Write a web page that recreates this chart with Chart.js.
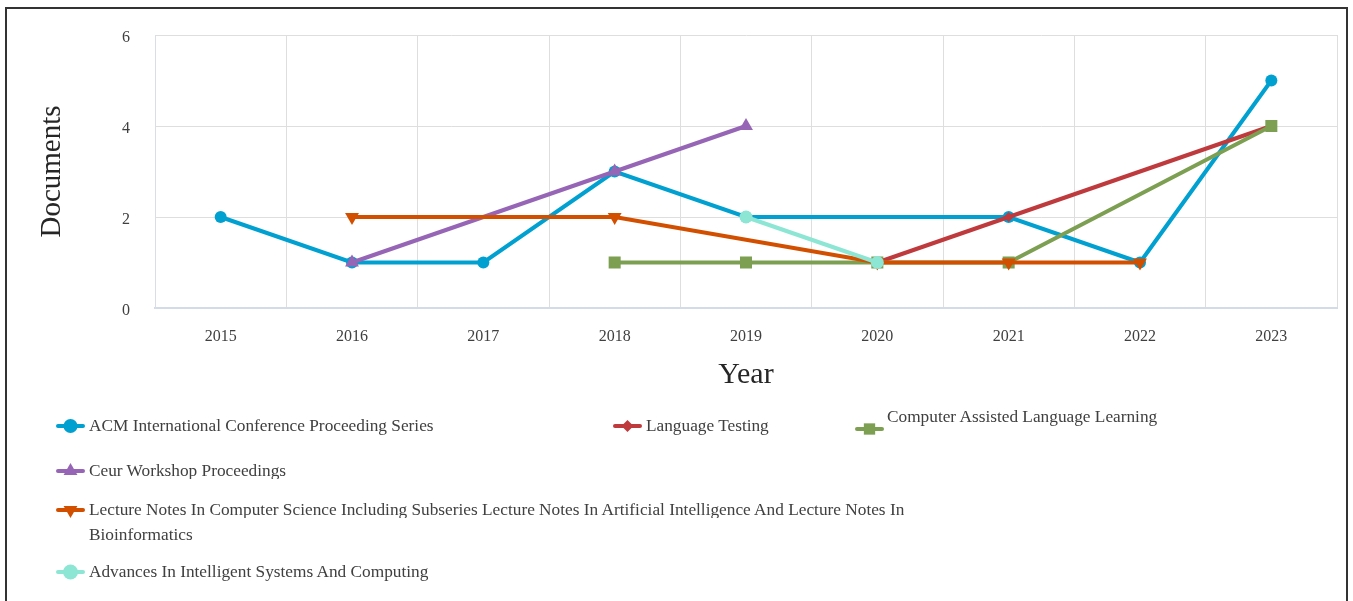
<!DOCTYPE html>
<html>
<head>
<meta charset="utf-8">
<script src="https://cdn.jsdelivr.net/npm/chart.js@4.4.1/dist/chart.umd.min.js"></script>
<style>
  html, body { margin: 0; padding: 0; background: #fff; overflow: hidden; }
  #wrap { position: relative; width: 1353px; height: 601px; }
  #frame { position: absolute; left: 5px; top: 7px; width: 1343px; height: 620px; border: 2px solid #333; box-sizing: border-box; }
  #chart { position: absolute; left: 0; top: 0; }
  .item { position: absolute; font-family: "Liberation Serif", serif; font-size: 17.3px; color: #404040; line-height: 25px; white-space: nowrap; }
  .item canvas { position: absolute; left: 0; top: 0; }
  .item span { position: absolute; }
</style>
</head>
<body>
<div id="wrap">
  <div id="frame"></div>
  <canvas id="chart" width="1353" height="601"></canvas>
  <div id="legend"></div>
</div>
<script>
var years = ['2015', '2016', '2017', '2018', '2019', '2020', '2021', '2022', '2023'];

var acm = [2, 1, 1, 3, 2, null, 2, 1, 5];
var languageTesting = [null, null, null, null, null, 1, 2, null, 4];
var computerAssisted = [null, null, null, 1, 1, 1, 1, null, 4];
var ceur = [null, 1, null, 3, 4, null, null, null, null];
var lectureNotes = [null, 2, null, 2, null, 1, 1, 1, null];
var advances = [null, null, null, null, 2, 1, null, null, null];

var seriesNames = [
    'ACM International Conference Proceeding Series',
    'Language Testing',
    'Computer Assisted Language Learning',
    'Ceur Workshop Proceedings',
    'Lecture Notes In Computer Science Including Subseries Lecture Notes In Artificial Intelligence And Lecture Notes In Bioinformatics',
    'Advances In Intelligent Systems And Computing'
];
var yTicks = [0, 2, 4, 6];

var colors = ['#00a0d1', '#be3a3c', '#7c9f52', '#9665b5', '#d24f00', '#8de6d4'];
var styles = ['circle', 'rectRot', 'rect', 'triangle', 'triangle', 'circle'];
var rotations = [0, 0, 0, 0, 180, 0];
var radii = [6, 5, 8.5, 8, 8, 6.5];
var values = [acm, languageTesting, computerAssisted, ceur, lectureNotes, advances];

var datasets = values.map(function (v, i) {
    return {
        label: seriesNames[i],
        data: v,
        borderColor: colors[i],
        backgroundColor: colors[i],
        borderWidth: 4,
        pointStyle: styles[i],
        pointRotation: rotations[i],
        pointRadius: radii[i],
        pointHoverRadius: radii[i],
        pointBorderWidth: 0,
        spanGaps: true,
        tension: 0,
        order: values.length - i
    };
});

var serif = 'Liberation Serif';

new Chart(document.getElementById('chart'), {
    type: 'line',
    data: { labels: years, datasets: datasets },
    options: {
        responsive: false,
        animation: false,
        layout: { padding: { left: 0, top: 35, right: 16, bottom: 203 } },
        plugins: { legend: { display: false }, tooltip: { enabled: false } },
        scales: {
            x: {
                offset: true,
                grid: { offset: true, color: '#dedede', lineWidth: 1, drawTicks: false },
                border: { color: '#d3dae8', width: 2 },
                ticks: { color: '#404040', padding: 19, font: { family: serif, size: 16 } },
                title: { display: true, text: 'Year', color: '#262626', padding: { top: 0, bottom: 5 }, font: { family: serif, size: 30 } },
                afterFit: function (scale) { scale.height = 90; }
            },
            y: {
                min: 0,
                max: 6,
                afterBuildTicks: function (scale) {
                    scale.ticks = yTicks.map(function (t) { return { value: t }; });
                },
                grid: { color: '#dedede', lineWidth: 1, drawTicks: false },
                border: { color: '#d9dde8', width: 1 },
                ticks: { color: '#404040', padding: 25, labelOffset: 3, font: { family: serif, size: 16 } },
                title: { display: true, text: 'Documents', color: '#262626', padding: { top: 35, bottom: 0 }, font: { family: serif, size: 29 } },
                afterFit: function (scale) { scale.width = 155; }
            }
        }
    }
});

// legend laid out like the original export
var legendPlaces = [
    { x: 56, y: 413, textDy: 0, w: 520 },
    { x: 613, y: 413, textDy: 0, w: 300 },
    { x: 855, y: 416, textDy: -12, w: 420 },
    { x: 56, y: 458, textDy: 0, w: 520, clip: 21 },
    { x: 56, y: 497, textDy: 0, w: 900, clip: 21, second: 'Bioinformatics' },
    { x: 56, y: 559, textDy: 0, w: 520 }
];

var legend = document.getElementById('legend');
legendPlaces.forEach(function (p, i) {
    var item = document.createElement('div');
    item.className = 'item';
    item.style.left = p.x + 'px';
    item.style.top = p.y + 'px';
    item.style.width = p.w + 'px';
    item.style.height = '60px';

    var c = document.createElement('canvas');
    c.width = 30; c.height = 25;
    var ctx = c.getContext('2d');
    ctx.strokeStyle = colors[i];
    ctx.fillStyle = colors[i];
    ctx.lineWidth = 4;
    ctx.lineCap = 'round';
    ctx.beginPath();
    ctx.moveTo(2, 13);
    ctx.lineTo(27, 13);
    ctx.stroke();
    Chart.helpers.drawPoint(ctx, {
        pointStyle: styles[i],
        rotation: rotations[i],
        radius: Math.min(radii[i] + 1, 8),
        borderWidth: 0
    }, 14.5, 13);
    item.appendChild(c);

    var label = seriesNames[i];
    if (p.second) label = label.slice(0, label.length - p.second.length - 1);
    var t = document.createElement('span');
    t.textContent = label;
    t.style.left = (i === 2 ? 32 : 33) + 'px';
    t.style.top = p.textDy + 'px';
    if (p.clip) { t.style.height = p.clip + 'px'; t.style.overflow = 'hidden'; }
    item.appendChild(t);

    if (p.second) {
        var t2 = document.createElement('span');
        t2.textContent = p.second;
        t2.style.left = '33px';
        t2.style.top = '25px';
        item.appendChild(t2);
    }
    legend.appendChild(item);
});
</script>
</body>
</html>
